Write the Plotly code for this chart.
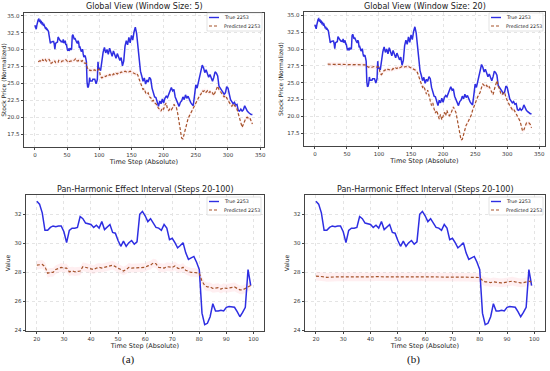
import plotly.graph_objects as go

# ---------------- DATA ----------------
steps_fine = list(range(0, 100))
steps_coarse = list(range(100, 340, 2))

true_steps = steps_fine + steps_coarse
true_vals = [
    33.6, 33.3, 33.0, 33.6, 34.2, 34.4, 34.5, 34.2, 34.3, 34.0,
    34.1, 33.8, 33.9, 33.6, 33.7, 33.4, 33.2, 33.3, 32.9, 33.0,
    32.9, 32.7, 32.1, 30.9, 30.9, 31.1, 31.2, 31.15, 31.2, 31.2,
    30.8, 30.05, 30.9, 31.05, 31.05, 31.1, 31.85, 31.7, 31.4, 31.35,
    31.3, 31.1, 31.25, 31.05, 31.5, 30.95, 31.1, 31.3, 30.75, 30.7,
    30.2, 29.8, 30.15, 29.8, 30.05, 30.2, 29.95, 30.1, 32.0, 32.2,
    31.9, 31.5, 31.7, 31.4, 31.1, 31.05, 30.9, 31.3, 31.05, 30.25,
    30.35, 30.05, 29.7, 29.85, 30.05, 29.35, 28.9, 29.0, 29.1, 28.7,
    28.2, 25.2, 24.4, 24.5, 24.95, 25.85, 25.35, 25.35, 25.4, 25.35,
    25.6, 25.65, 25.6, 25.6, 25.3, 24.95, 25.25, 25.6, 28.2, 27.1,
    # steps 100..338 (every 2)
    27.2, 26.9, 28.5, 29.6, 30.3, 29.5, 30.0, 29.3, 30.2, 29.6,
    29.0, 29.8, 29.2, 28.7, 29.4, 28.9, 28.4, 28.8, 27.6, 28.3,
    30.5, 31.3, 30.7, 31.8, 31.0, 32.1, 31.4, 32.6, 33.3, 32.4,
    30.6, 29.6, 26.8, 26.1, 25.3, 25.8, 24.9, 25.5, 25.2, 25.9,
    25.6, 24.3, 23.8, 23.0, 22.9, 22.3, 21.6, 22.4, 22.0, 22.7,
    22.1, 22.8, 23.1, 22.9, 23.4, 23.6, 24.4, 23.9, 24.1, 23.0,
    22.6, 22.0, 21.6, 22.2, 22.4, 23.0, 22.6, 23.3, 22.8, 23.1,
    22.5, 22.2, 21.9, 21.7, 23.2, 24.8, 24.3, 25.2, 25.6, 26.5,
    27.7, 27.3, 26.6, 27.0, 26.3, 25.9, 26.3, 25.6, 25.3, 25.9,
    26.7, 26.5, 26.1, 24.6, 24.2, 24.0, 23.7, 23.4, 23.6, 24.5,
    24.3, 23.5, 22.6, 22.3, 22.0, 22.2, 21.8, 21.9, 21.0, 20.9,
    21.2, 20.9, 21.1, 21.7, 21.2, 20.9, 20.7, 20.5, 20.4, 20.4,
]

pred5_steps = list(range(5, 100)) + steps_coarse
pred5_vals = [
    28.2, 28.3, 28.25, 28.35, 28.3, 28.4, 28.3, 28.5, 28.4, 28.3,
    28.45, 28.55, 28.4, 28.3, 28.45,
    28.5, 28.5, 28.55, 28.4, 27.95, 28.0, 28.0, 28.2, 28.3, 28.35,
    28.3, 28.3, 28.05, 28.1, 28.05, 28.05, 28.1, 28.4, 28.35, 28.3,
    28.25, 28.2, 28.3, 28.35, 28.3, 28.35, 28.35, 28.45, 28.5, 28.4,
    28.3, 28.2, 28.1, 28.2, 28.35, 28.3, 28.3, 28.35, 28.35, 28.3,
    28.35, 28.45, 28.5, 28.65, 28.6, 28.35, 28.3, 28.3, 28.4, 28.4,
    28.35, 28.45, 28.3, 28.25, 28.35, 28.15, 28.05, 28.0, 28.0, 28.0,
    27.95, 27.4, 27.1, 27.0, 27.0, 26.9, 26.9, 26.95, 26.85, 26.95,
    26.9, 26.95, 26.95, 27.0, 26.9, 26.8, 26.8, 26.9, 27.0, 27.1,
    # steps 100..338 (every 2)
    27.0, 26.0, 25.8, 26.0, 26.1, 26.0, 26.2, 26.1, 26.3, 26.2,
    26.1, 26.4, 26.3, 26.5, 26.4, 26.6, 26.5, 26.7, 26.6, 26.7,
    26.8, 26.7, 26.8, 26.7, 26.8, 26.7, 26.6, 26.6, 26.4, 26.5,
    26.2, 25.6, 25.0, 24.6, 24.1, 24.2, 23.6, 23.4, 23.6, 23.0,
    22.9, 22.4, 22.5, 22.1, 22.0, 21.7, 21.3, 21.2, 20.9, 21.4,
    21.2, 21.8, 22.1, 21.2, 21.0, 21.3, 21.1, 21.4, 21.9, 21.6,
    21.4, 20.5, 19.4, 18.0, 16.9, 16.8, 17.6, 18.6, 19.3, 19.8,
    20.2, 20.6, 20.9, 21.2, 21.7, 22.0, 22.6, 22.8, 23.2, 23.4,
    23.9, 23.8, 24.0, 23.7, 23.9, 23.6, 23.8, 23.5, 23.6, 23.2,
    23.7, 24.3, 24.6, 24.1, 23.8, 23.6, 23.3, 23.0, 23.2, 22.7,
    22.5, 22.2, 21.8, 21.6, 22.0, 21.8, 21.5, 21.2, 20.4, 19.9,
    19.2, 18.5, 19.0, 19.5, 19.9, 20.0, 19.8, 19.9, 19.4, 19.0,
]

pred20_steps = list(range(20, 100)) + steps_coarse
pred20_vals = [
    27.75, 27.75, 27.7, 27.7, 27.66, 27.68, 27.68, 27.7, 27.7, 27.69,
    27.7, 27.7, 27.68, 27.69, 27.7, 27.69, 27.7, 27.71, 27.7, 27.69,
    27.7, 27.7, 27.71, 27.7, 27.7, 27.72, 27.71, 27.7, 27.7, 27.69,
    27.7, 27.69, 27.68, 27.69, 27.7, 27.69, 27.7, 27.7, 27.71, 27.7,
    27.7, 27.7, 27.71, 27.72, 27.71, 27.7, 27.7, 27.71, 27.7, 27.7,
    27.7, 27.71, 27.7, 27.69, 27.7, 27.68, 27.67, 27.66, 27.66, 27.65,
    27.65, 27.45, 27.35, 27.35, 27.3, 27.35, 27.3, 27.3, 27.28, 27.3,
    27.35, 27.35, 27.4, 27.35, 27.3, 27.28, 27.3, 27.35, 27.4, 27.35,
    # steps 100..338 (every 2)
    27.3, 26.3, 26.2, 26.6, 26.8, 26.9, 26.8, 27.0, 26.9, 27.0,
    26.9, 27.1, 27.0, 27.2, 27.1, 27.3, 27.2, 27.3, 27.4, 27.3,
    27.4, 27.4, 27.3, 27.4, 27.3, 27.2, 27.1, 27.0, 26.9, 26.8,
    26.5, 26.0, 25.4, 25.0, 24.3, 24.5, 23.8, 23.3, 23.9, 22.9,
    22.3, 21.6, 22.0, 21.1, 20.5, 20.9, 20.0, 19.6, 20.3, 19.5,
    20.0, 20.6, 20.1, 20.9, 20.3, 20.1, 20.4, 20.9, 21.4, 21.0,
    20.6, 19.6, 18.4, 17.3, 16.5, 16.6, 17.3, 18.1, 18.7, 19.0,
    19.4, 19.8, 20.2, 20.9, 21.5, 22.0, 22.4, 22.9, 23.3, 23.6,
    24.3, 24.8, 24.6, 24.4, 24.6, 24.2, 24.4, 24.0, 23.8, 23.2,
    24.0, 24.6, 25.3, 24.5, 24.1, 23.4, 23.2, 23.5, 23.6, 22.8,
    22.5, 22.0, 21.6, 21.3, 21.0, 21.1, 20.7, 20.3, 20.0, 19.5,
    19.3, 18.6, 17.8, 18.0, 18.6, 19.0, 18.9, 19.0, 18.8, 18.3,
]

band_halfwidth = 0.3
zoom_start, zoom_end = 20, 100

series_names = ["True 2253", "Predicted 2253"]
titles = ["Global View (Window Size: 5)", "Global View (Window Size: 20)",
          "Pan-Harmonic Effect Interval (Steps 20-100)",
          "Pan-Harmonic Effect Interval (Steps 20-100)"]
panel_labels = ["(a)", "(b)"]
global_xticks = [0, 50, 100, 150, 200, 250, 300, 350]
global_yticks = [17.5, 20.0, 22.5, 25.0, 27.5, 30.0, 32.5, 35.0]
zoom_xticks = [20, 30, 40, 50, 60, 70, 80, 90, 100]
zoom_yticks = [24, 26, 28, 30, 32]

# ---------------- FIGURE ----------------
W, H = 550, 371
BLUE = "#2e2ee2"
PRED = "#a5532a"
BAND = "rgba(255,182,193,0.22)"
FONT = "DejaVu Sans"
PRED_DASH = "3px,2px"

fig = go.Figure()


def sub(xs, ys, lo, hi):
    pairs = [(x, y) for x, y in zip(xs, ys) if lo <= x < hi]
    return [p[0] for p in pairs], [p[1] for p in pairs]


panels = [
    (1, pred5_steps, pred5_vals, -1e9, 1e9),
    (2, pred20_steps, pred20_vals, -1e9, 1e9),
    (3, pred5_steps, pred5_vals, zoom_start, zoom_end),
    (4, pred20_steps, pred20_vals, zoom_start, zoom_end),
]

for idx, ps, pv, lo, hi in panels:
    xa = "x" if idx == 1 else f"x{idx}"
    ya = "y" if idx == 1 else f"y{idx}"
    tx, tv = sub(true_steps, true_vals, lo, hi)
    px, pvv = sub(ps, pv, lo, hi)
    upper = [v + band_halfwidth for v in pvv]
    lower = [v - band_halfwidth for v in pvv]
    fig.add_trace(go.Scatter(x=px, y=upper, mode="lines", line=dict(width=0),
                             showlegend=False, hoverinfo="skip", xaxis=xa, yaxis=ya))
    fig.add_trace(go.Scatter(x=px, y=lower, mode="lines", line=dict(width=0),
                             fill="tonexty", fillcolor=BAND,
                             showlegend=False, hoverinfo="skip", xaxis=xa, yaxis=ya))
    fig.add_trace(go.Scatter(x=tx, y=tv, mode="lines", name=series_names[0],
                             line=dict(color=BLUE, width=1.5), showlegend=False,
                             xaxis=xa, yaxis=ya))
    fig.add_trace(go.Scatter(x=px, y=pvv, mode="lines", name=series_names[1],
                             line=dict(color=PRED, width=1.2, dash=PRED_DASH), showlegend=False,
                             xaxis=xa, yaxis=ya))

dom = {
    1: ((24, 264), (13, 147)),
    2: ((304, 545), (12, 146)),
    3: ((26, 264), (195, 331)),
    4: ((305, 545), (195, 331)),
}
ranges = {
    1: ([-17, 356], [15.6, 35.4]),
    2: ([-17, 359], [15.6, 35.5]),
    3: ([16, 103.9], [23.97, 33.33]),
    4: ([16, 103.9], [23.97, 33.33]),
}
legend_boxes = {
    1: (207, 13, 262, 31),
    2: (489, 13, 543, 31),
    3: (207, 197, 261, 215),
    4: (489, 197, 543, 215),
}
title_centers = {1: 7, 2: 7, 3: 189.5, 4: 189.5}

axis_common = dict(showline=True, linecolor="#444", linewidth=0.8, mirror=True,
                   ticks="outside", ticklen=2.5, tickwidth=0.8, tickcolor="#444",
                   tickfont=dict(family=FONT, size=5.5, color="#333"),
                   showgrid=True, gridcolor="#e4e4e4", griddash="dot", gridwidth=0.6,
                   zeroline=False, automargin=False)


def px2x(p):
    return p / W


def px2y(p):
    return 1 - p / H


for idx in range(1, 5):
    (x0, x1), (y0, y1) = dom[idx]
    xr, yr = ranges[idx]
    sfx = "" if idx == 1 else str(idx)
    top = idx <= 2
    xaxis = dict(axis_common, domain=[x0 / W, x1 / W], range=xr,
                 tickvals=global_xticks if top else zoom_xticks,
                 anchor="y" + sfx,
                 title=dict(text="Time Step (Absolute)", standoff=0,
                            font=dict(family=FONT, size=6.5, color="#222")))
    yaxis = dict(axis_common, domain=[1 - y1 / H, 1 - y0 / H], range=yr,
                 tickvals=global_yticks if top else zoom_yticks,
                 ticktext=[f"{v:.1f}" for v in global_yticks] if top else [str(v) for v in zoom_yticks],
                 anchor="x" + sfx,
                 title=dict(text="Stock Price (Normalized)" if top else "Value", standoff=3,
                            font=dict(family=FONT, size=6.0, color="#222")))
    fig.layout["xaxis" + sfx] = xaxis
    fig.layout["yaxis" + sfx] = yaxis

    L, T, R, B = legend_boxes[idx]
    fig.add_shape(type="rect", xref="paper", yref="paper",
                  x0=px2x(L), x1=px2x(R), y0=px2y(B), y1=px2y(T),
                  line=dict(color="#d0d0d0", width=0.6), fillcolor="rgba(255,255,255,0.85)")
    rows = [T + 4.5, T + 13]
    styles = [dict(color=BLUE, width=1.4), dict(color=PRED, width=1.2, dash=PRED_DASH)]
    for r, st, name in zip(rows, styles, series_names):
        fig.add_shape(type="line", xref="paper", yref="paper",
                      x0=px2x(L + 2), x1=px2x(L + 12), y0=px2y(r), y1=px2y(r), line=st)
        fig.add_annotation(text=name, xref="paper", yref="paper",
                           x=px2x(L + 15), y=px2y(r), xanchor="left", yanchor="middle",
                           showarrow=False, font=dict(family=FONT, size=4.8, color="#222"))

    fig.add_annotation(text=titles[idx - 1], xref="paper", yref="paper",
                       x=(x0 + x1) / 2 / W, y=px2y(title_centers[idx]),
                       xanchor="center", yanchor="middle", showarrow=False, borderpad=0,
                       font=dict(family=FONT, size=8, color="#222"))

for i, lab in enumerate(panel_labels):
    fig.add_annotation(text=lab, xref="paper", yref="paper",
                       x=(128 if i == 0 else 413) / W, y=1 - 359 / H,
                       xanchor="center", yanchor="middle", showarrow=False,
                       font=dict(family="Liberation Serif", size=11, color="#111"))

fig.update_layout(width=W, height=H, margin=dict(l=0, r=0, t=0, b=0),
                  paper_bgcolor="white", plot_bgcolor="white", showlegend=False)

fig.write_html("out.html", config={"displayModeBar": False},
               post_script="document.body.style.margin='0';document.body.style.overflow='hidden';")
